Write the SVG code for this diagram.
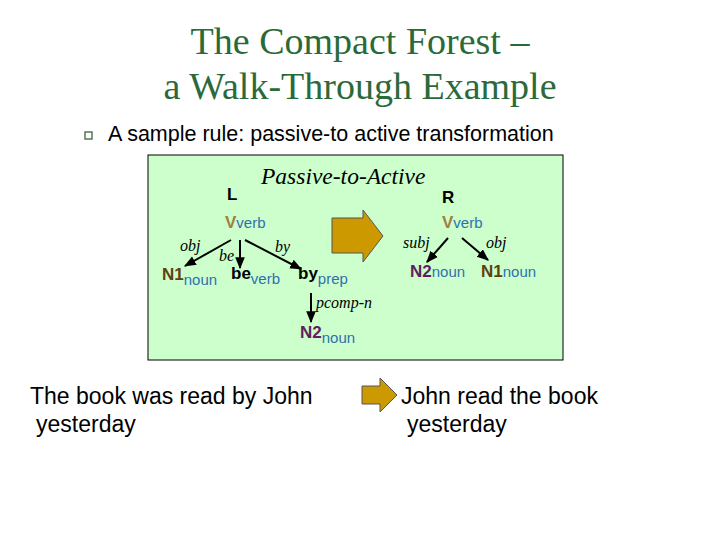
<svg xmlns="http://www.w3.org/2000/svg" width="720" height="540" viewBox="0 0 720 540">
<defs>
<marker id="ah" viewBox="0 0 10 10" refX="9" refY="5" markerWidth="6" markerHeight="6" orient="auto"><path d="M0,1 L10,5 L0,9 z" fill="#000"/></marker>
</defs>
<style>
.t{font-family:"Liberation Serif",serif;fill:#2a6a3a;font-size:38px}
.s{font-family:"Liberation Sans",Arial,sans-serif}
.i{font-family:"Liberation Serif",serif;font-style:italic;font-size:16px;fill:#000}
.b{font-family:"Liberation Sans",Arial,sans-serif;font-weight:bold;font-size:17px}
.sub{font-family:"Liberation Sans",Arial,sans-serif;font-size:15px;fill:#2f6fb0}
.e{stroke:#000;stroke-width:2;fill:none;marker-end:url(#ah)}
</style>
<rect width="720" height="540" fill="#fff"/>
<text class="t" x="360" y="54" text-anchor="middle">The Compact Forest –</text>
<text class="t" x="360" y="99" text-anchor="middle">a Walk-Through Example</text>
<rect x="85" y="132" width="7" height="7" fill="none" stroke="#557755" stroke-width="1.5"/>
<text class="s" x="108" y="141" font-size="21.5">A sample rule: passive-to active transformation</text>
<rect x="148" y="155" width="415" height="205" fill="#ccffcc" stroke="#000" stroke-width="1"/>
<text x="261" y="184" font-family="Liberation Serif,serif" font-style="italic" font-size="23.5">Passive-to-Active</text>
<text class="b" x="227" y="200" font-size="22">L</text>
<text class="b" x="442" y="203" font-size="22">R</text>
<g id="L-V"><text x="225" y="228"><tspan class="b" fill="#a08040" font-size="20">V</tspan><tspan class="sub">verb</tspan></text></g>
<g id="L-N1"><text x="162" y="280"><tspan class="b" fill="#604010">N1</tspan><tspan class="sub" dy="5">noun</tspan></text></g>
<g id="L-be"><text x="231" y="279"><tspan class="b" fill="#000">be</tspan><tspan class="sub" dy="5">verb</tspan></text></g>
<g id="L-by"><text x="298" y="279"><tspan class="b" fill="#000">by</tspan><tspan class="sub" dy="5">prep</tspan></text></g>
<g id="L-N2"><text x="300" y="338"><tspan class="b" fill="#602060">N2</tspan><tspan class="sub" dy="5">noun</tspan></text></g>
<g id="R-V"><text x="442" y="228"><tspan class="b" fill="#a08040" font-size="20">V</tspan><tspan class="sub">verb</tspan></text></g>
<g id="R-N2"><text x="410" y="277"><tspan class="b" fill="#602060">N2</tspan><tspan class="sub">noun</tspan></text></g>
<g id="R-N1"><text x="481" y="277"><tspan class="b" fill="#604010">N1</tspan><tspan class="sub">noun</tspan></text></g>
<g id="connectors">
<line class="e" x1="231" y1="240" x2="185" y2="266"/>
<line class="e" x1="240" y1="240" x2="240" y2="268"/>
<line class="e" x1="245" y1="240" x2="301" y2="269"/>
<line class="e" x1="311" y1="293" x2="311" y2="322"/>
<line class="e" x1="448" y1="238" x2="427" y2="262"/>
<line class="e" x1="462" y1="238" x2="488" y2="260"/>
<text class="i" x="180" y="251">obj</text>
<text class="i" x="219" y="261">be</text>
<text class="i" x="275" y="252">by</text>
<text class="i" x="316" y="308">pcomp-n</text>
<text class="i" x="403" y="248">subj</text>
<text class="i" x="486" y="248">obj</text>
</g>
<path d="M332,218 H363 V210 L383,236 L363,262 V253 H332 Z" fill="#cc9900" stroke="#555" stroke-width="1"/>
<text class="s" x="30" y="404" font-size="23">The book was read by John</text>
<text class="s" x="36" y="432" font-size="23">yesterday</text>
<path d="M362,386 H380 V378 L397,395 L380,412 V404 H362 Z" fill="#cc9900" stroke="#555" stroke-width="1"/>
<text class="s" x="401" y="404" font-size="23">John read the book</text>
<text class="s" x="407" y="432" font-size="23">yesterday</text>
</svg>
